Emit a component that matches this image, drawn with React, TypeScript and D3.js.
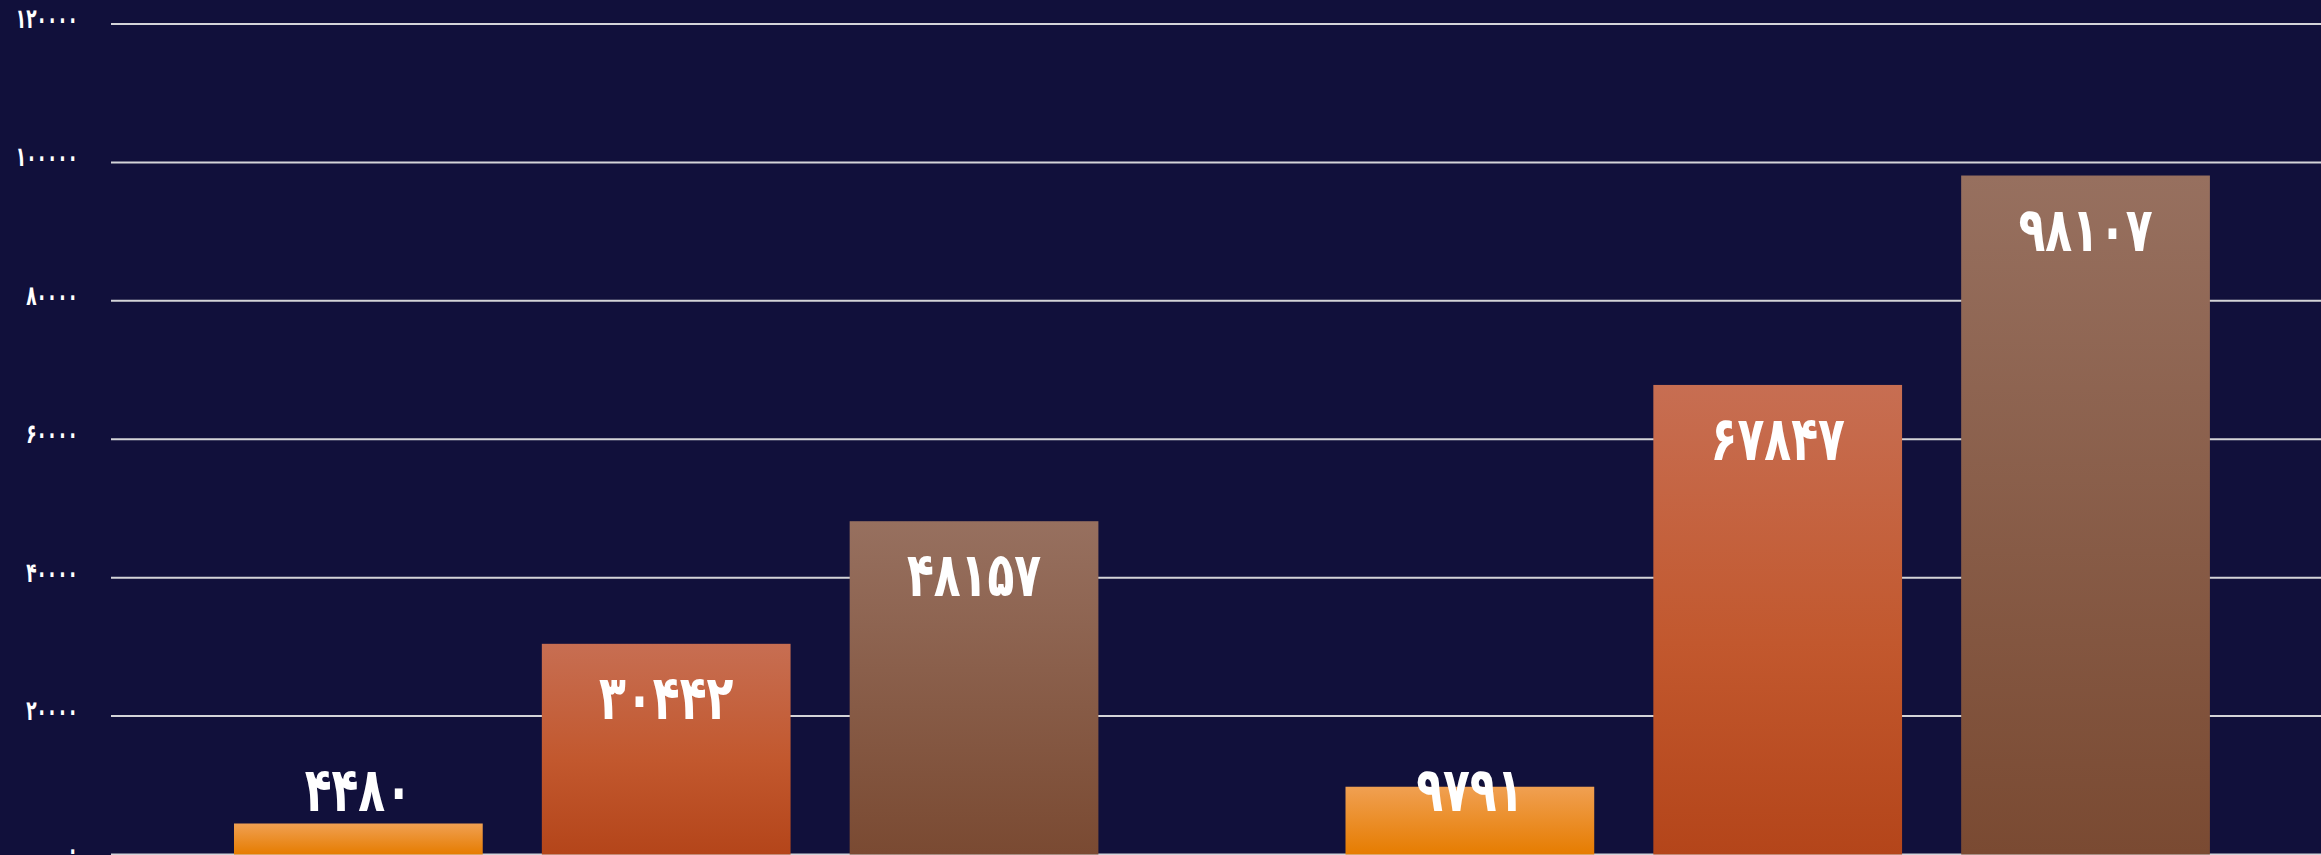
import React from "react";
import * as d3 from "d3";

const categories = ["گروه ۱", "گروه ۲"];
const seriesNames = ["سری ۱", "سری ۲", "سری ۳"];
const values: number[][] = [
  [4480, 30442, 48157],
  [9791, 67847, 98107],
];
const yTicks = [0, 20000, 40000, 60000, 80000, 100000, 120000];

const W = 2321;
const H = 855;
const toFa = (s: string) => s.replace(/[0-9]/g, (d) => "۰۱۲۳۴۵۶۷۸۹"[+d]);

const gradients = [
  { id: "g0", stops: [["0%", "#F0A052"], ["100%", "#E67C00"]] },
  { id: "g1", stops: [["0%", "#C76E52"], ["55%", "#C2582E"], ["100%", "#B4451A"]] },
  { id: "g2", stops: [["0%", "#97705F"], ["100%", "#7A4A32"]] },
];

export default function App() {
  const plotLeft = 111;
  const plotRight = W;
  const y = d3.scaleLinear().domain([0, 120000]).range([854.5, 24]);
  const x0 = d3.scaleBand<string>().domain(categories).range([105, 2328]).padding(0);
  const x1 = d3
    .scaleBand<string>()
    .domain(seriesNames)
    .range([129, 993.4])
    .paddingInner(0.192)
    .paddingOuter(0);
  const font = "'DejaVu Sans', sans-serif";

  return (
    <svg
      width={W}
      height={H}
      style={{ position: "absolute", left: 0, top: 0, display: "block" }}
    >
      <defs>
        {gradients.map((g) => (
          <linearGradient key={g.id} id={g.id} x1="0" y1="0" x2="0" y2="1">
            {g.stops.map(([o, c]) => (
              <stop key={o} offset={o} stopColor={c} />
            ))}
          </linearGradient>
        ))}
      </defs>
      <rect x={0} y={0} width={W} height={H} fill="#11103B" />
      {yTicks.map((t) => (
        <g key={t}>
          <line
            x1={plotLeft}
            x2={plotRight}
            y1={y(t)}
            y2={y(t)}
            stroke="#D4D4D8"
            strokeWidth={2}
          />
          <text
            transform={`translate(78,${y(t) + 4}) scale(1,1.6)`}
            textAnchor="end"
            fill="#FFFFFF"
            fontFamily={font}
            fontWeight="bold"
            fontSize={17}
          >
            {toFa(String(t))}
          </text>
        </g>
      ))}
      {categories.map((c, ci) => (
        <g key={c} transform={`translate(${x0(c)},0)`}>
          {seriesNames.map((s, si) => {
            const v = values[ci][si];
            const bx = x1(s)!;
            const top = y(v);
            const ly = Math.min(top + 75, y(0) - 44);
            return (
              <g key={s}>
                <rect
                  x={bx}
                  y={top}
                  width={x1.bandwidth()}
                  height={y(0) - top}
                  fill={`url(#g${si})`}
                />
                <text
                  transform={`translate(${bx + x1.bandwidth() / 2},${ly}) scale(1,1.4)`}
                  textAnchor="middle"
                  fill="#FFFFFF"
                  fontFamily={font}
                  fontWeight="bold"
                  fontSize={44}
                >
                  {toFa(String(v))}
                </text>
              </g>
            );
          })}
        </g>
      ))}
    </svg>
  );
}
